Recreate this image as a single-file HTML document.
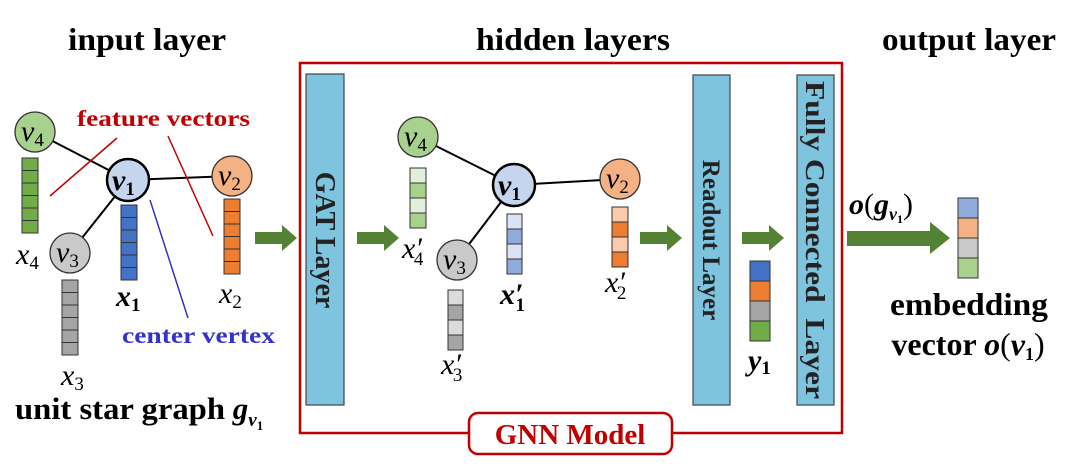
<!DOCTYPE html>
<html><head><meta charset="utf-8"><style>
html,body{margin:0;padding:0;background:#fff;}
svg{display:block;}
text{font-family:"Liberation Serif",serif;}
.t{font-weight:bold;font-size:32px;}
.m{font-style:italic;font-size:30px;}
.s{font-size:19px;font-style:normal;}
</style></head><body>
<svg width="1080" height="469" viewBox="0 0 1080 469" xmlns="http://www.w3.org/2000/svg">
<defs>
<g id="arr"><rect x="0" y="-6" width="28" height="12" fill="#548235"/><polygon points="27,-13 42,0 27,13" fill="#548235"/></g>
</defs>
<text class="t" x="68" y="50" textLength="158" lengthAdjust="spacingAndGlyphs">input layer</text>
<text class="t" x="476" y="50" textLength="194" lengthAdjust="spacingAndGlyphs">hidden layers</text>
<text class="t" x="882" y="50" textLength="174" lengthAdjust="spacingAndGlyphs">output layer</text>

<!-- red box -->
<rect x="300" y="63" width="542" height="370" fill="none" stroke="#c00000" stroke-width="2.5"/>
<rect x="469" y="413" width="203" height="41" rx="9" fill="#fff" stroke="#c00000" stroke-width="2.5"/>
<text x="570" y="444" text-anchor="middle" font-size="29" font-weight="bold" fill="#c00000">GNN Model</text>

<!-- bars -->
<rect x="306" y="74" width="38" height="331" fill="#7ec4de" stroke="#444" stroke-width="1.2"/>
<text transform="translate(316,240) rotate(90)" text-anchor="middle" font-size="28" font-weight="bold" fill="#222">GAT Layer</text>
<rect x="693" y="75" width="37" height="330" fill="#7ec4de" stroke="#444" stroke-width="1.2"/>
<text transform="translate(703,240) rotate(90)" text-anchor="middle" font-size="25" font-weight="bold" fill="#222">Readout Layer</text>
<rect x="797" y="75" width="37" height="330" fill="#7ec4de" stroke="#444" stroke-width="1.2"/>
<text transform="translate(806,240) rotate(90)" text-anchor="middle" font-size="27" font-weight="bold" fill="#222" xml:space="preserve" textLength="318" lengthAdjust="spacingAndGlyphs">Fully Connected  Layer</text>

<!-- arrows -->
<use href="#arr" x="255" y="238"/>
<use href="#arr" x="357" y="238"/>
<use href="#arr" x="640" y="238"/>
<use href="#arr" x="742" y="238"/>
<rect x="847" y="231" width="85" height="15" fill="#548235"/><polygon points="930,222 950,238 930,254" fill="#548235"/>

<!-- left graph -->
<g stroke="#000" stroke-width="2">
<line x1="35" y1="132" x2="128" y2="180"/><line x1="128" y1="180" x2="232" y2="176"/><line x1="128" y1="180" x2="70" y2="253"/>
</g>
<circle cx="35" cy="132" r="20" fill="#a9d18e" stroke="#333" stroke-width="1.3"/>
<circle cx="232" cy="176" r="20" fill="#f4b183" stroke="#333" stroke-width="1.3"/>
<circle cx="70" cy="253" r="20" fill="#c9c9c9" stroke="#333" stroke-width="1.3"/>
<circle cx="128" cy="180" r="21" fill="#c5d5ee" stroke="#000" stroke-width="2.5"/>
<text class="m" x="21" y="141">v<tspan class="s" dy="5">4</tspan></text>
<text class="m" x="218" y="185">v<tspan class="s" dy="5">2</tspan></text>
<text class="m" x="56" y="262">v<tspan class="s" dy="5">3</tspan></text>
<text class="m" x="112" y="190" font-weight="bold">v<tspan class="s" dy="5" font-weight="bold">1</tspan></text>

<g stroke="#333" stroke-width="1">
<g fill="#70ad47"><rect x="22" y="158" width="16" height="12.5"/><rect x="22" y="170.5" width="16" height="12.5"/><rect x="22" y="183" width="16" height="12.5"/><rect x="22" y="195.5" width="16" height="12.5"/><rect x="22" y="208" width="16" height="12.5"/><rect x="22" y="220.5" width="16" height="12.5"/></g>
<g fill="#4472c4"><rect x="121" y="205" width="16" height="12.5"/><rect x="121" y="217.5" width="16" height="12.5"/><rect x="121" y="230" width="16" height="12.5"/><rect x="121" y="242.5" width="16" height="12.5"/><rect x="121" y="255" width="16" height="12.5"/><rect x="121" y="267.5" width="16" height="12.5"/></g>
<g fill="#ed7d31"><rect x="224" y="199" width="16" height="12.5"/><rect x="224" y="211.5" width="16" height="12.5"/><rect x="224" y="224" width="16" height="12.5"/><rect x="224" y="236.5" width="16" height="12.5"/><rect x="224" y="249" width="16" height="12.5"/><rect x="224" y="261.5" width="16" height="12.5"/></g>
<g fill="#a5a5a5"><rect x="62" y="280" width="16" height="12.5"/><rect x="62" y="292.5" width="16" height="12.5"/><rect x="62" y="305" width="16" height="12.5"/><rect x="62" y="317.5" width="16" height="12.5"/><rect x="62" y="330" width="16" height="12.5"/><rect x="62" y="342.5" width="16" height="12.5"/></g>
</g>
<text class="m" x="16" y="264">x<tspan class="s" dy="5">4</tspan></text>
<text class="m" x="116" y="306" font-weight="bold">x<tspan class="s" dy="5" font-weight="bold">1</tspan></text>
<text class="m" x="219" y="303">x<tspan class="s" dy="5">2</tspan></text>
<text class="m" x="61" y="385">x<tspan class="s" dy="5">3</tspan></text>

<text x="77" y="126" font-size="23" font-weight="bold" fill="#c00000" textLength="173" lengthAdjust="spacingAndGlyphs">feature vectors</text>
<line x1="50" y1="196" x2="117" y2="138" stroke="#c00000" stroke-width="1.5"/>
<line x1="168" y1="136" x2="213" y2="236" stroke="#c00000" stroke-width="1.5"/>
<line x1="150" y1="200" x2="188" y2="318" stroke="#3333cc" stroke-width="1.5"/>
<text x="122" y="343" font-size="23" font-weight="bold" fill="#3333cc" textLength="153" lengthAdjust="spacingAndGlyphs">center vertex</text>
<text x="15" y="419" font-size="31" font-weight="bold"><tspan textLength="210" lengthAdjust="spacingAndGlyphs">unit star graph</tspan> <tspan font-style="italic">g</tspan><tspan font-style="italic" font-size="19" dy="7">v</tspan><tspan font-size="13" dy="4">1</tspan></text>

<!-- hidden graph -->
<g stroke="#000" stroke-width="2">
<line x1="418" y1="137" x2="514" y2="185"/><line x1="514" y1="185" x2="620" y2="179"/><line x1="514" y1="185" x2="457" y2="260"/>
</g>
<circle cx="418" cy="137" r="20" fill="#a9d18e" stroke="#333" stroke-width="1.3"/>
<circle cx="620" cy="179" r="20" fill="#f4b183" stroke="#333" stroke-width="1.3"/>
<circle cx="457" cy="260" r="20" fill="#c9c9c9" stroke="#333" stroke-width="1.3"/>
<circle cx="514" cy="185" r="21" fill="#c5d5ee" stroke="#000" stroke-width="2.5"/>
<text class="m" x="404" y="146">v<tspan class="s" dy="5">4</tspan></text>
<text class="m" x="606" y="188">v<tspan class="s" dy="5">2</tspan></text>
<text class="m" x="443" y="269">v<tspan class="s" dy="5">3</tspan></text>
<text class="m" x="498" y="195" font-weight="bold">v<tspan class="s" dy="5" font-weight="bold">1</tspan></text>
<g stroke="#333" stroke-width="1">
<rect x="410" y="168" width="16" height="15" fill="#e2efda"/><rect x="410" y="183" width="16" height="15" fill="#a9d18e"/><rect x="410" y="198" width="16" height="15" fill="#e2efda"/><rect x="410" y="213" width="16" height="15" fill="#a9d18e"/>
<rect x="507" y="214" width="15" height="15" fill="#dae3f3"/><rect x="507" y="229" width="15" height="15" fill="#8faadc"/><rect x="507" y="244" width="15" height="15" fill="#dae3f3"/><rect x="507" y="259" width="15" height="15" fill="#8faadc"/>
<rect x="612" y="207" width="16" height="15" fill="#f8cbad"/><rect x="612" y="222" width="16" height="15" fill="#ed7d31"/><rect x="612" y="237" width="16" height="15" fill="#f8cbad"/><rect x="612" y="252" width="16" height="15" fill="#ed7d31"/>
<rect x="448" y="290" width="15" height="15" fill="#dbdbdb"/><rect x="448" y="305" width="15" height="15" fill="#a5a5a5"/><rect x="448" y="320" width="15" height="15" fill="#dbdbdb"/><rect x="448" y="335" width="15" height="15" fill="#a5a5a5"/>
</g>
<text class="m" x="402" y="258">x′<tspan class="s" dx="-8" dy="7">4</tspan></text>
<text class="m" x="500" y="304" font-weight="bold">x′<tspan class="s" dx="-8" dy="7" font-weight="bold">1</tspan></text>
<text class="m" x="605" y="292">x′<tspan class="s" dx="-8" dy="7">2</tspan></text>
<text class="m" x="441" y="374">x′<tspan class="s" dx="-8" dy="7">3</tspan></text>

<!-- y1 -->
<g stroke="#333" stroke-width="1">
<rect x="750" y="261" width="20" height="20" fill="#4472c4"/><rect x="750" y="281" width="20" height="20" fill="#ed7d31"/><rect x="750" y="301" width="20" height="20" fill="#a5a5a5"/><rect x="750" y="321" width="20" height="20" fill="#70ad47"/>
</g>
<text class="m" x="748" y="370" font-weight="bold">y<tspan class="s" dy="4" font-weight="bold">1</tspan></text>

<!-- output -->
<text class="m" x="849" y="214" font-weight="bold">o<tspan font-style="normal" font-weight="normal">(</tspan><tspan font-weight="bold">g</tspan><tspan font-size="18" dy="6" font-weight="bold">v</tspan><tspan font-size="12" dy="3" font-style="normal" font-weight="bold">1</tspan><tspan font-style="normal" font-weight="normal" dy="-9">)</tspan></text>
<g stroke="#333" stroke-width="1">
<rect x="958" y="198" width="20" height="20" fill="#8faadc"/><rect x="958" y="218" width="20" height="20" fill="#f4b183"/><rect x="958" y="238" width="20" height="20" fill="#c9c9c9"/><rect x="958" y="258" width="20" height="20" fill="#a9d18e"/>
</g>
<text x="890" y="315" font-size="32" font-weight="bold" textLength="158" lengthAdjust="spacingAndGlyphs">embedding</text>
<text x="968" y="355" text-anchor="middle" font-size="32" font-weight="bold">vector <tspan font-style="italic">o</tspan><tspan font-weight="normal">(</tspan><tspan font-style="italic">v</tspan><tspan font-size="18" dy="5">1</tspan><tspan font-weight="normal" dy="-5">)</tspan></text>
</svg>
</body></html>
